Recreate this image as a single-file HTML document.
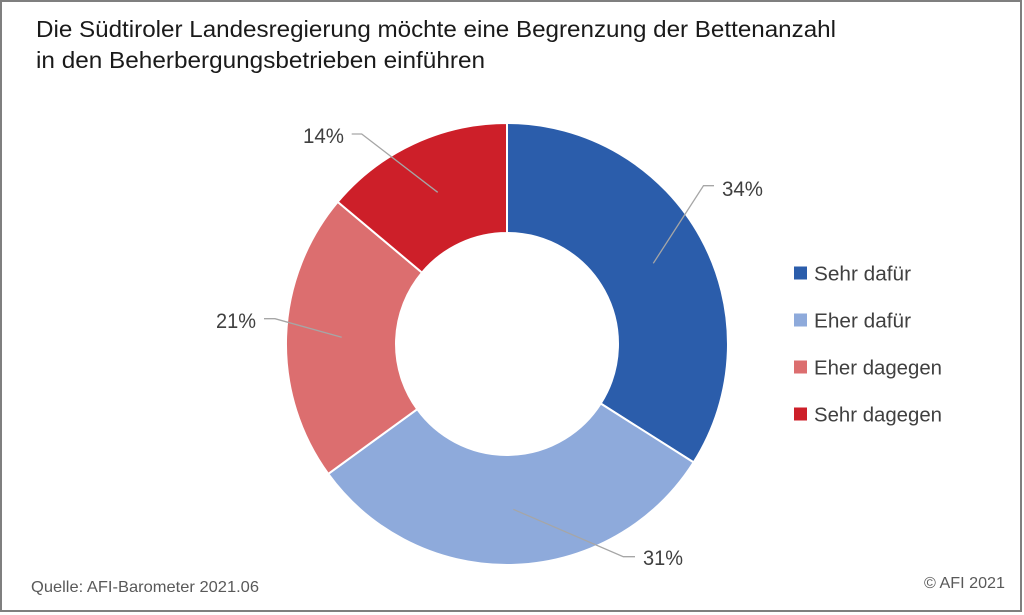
<!DOCTYPE html>
<html>
<head>
<meta charset="utf-8">
<style>
  html, body { margin: 0; padding: 0; background: #ffffff; }
  svg { display: block; }
  text { font-family: "Liberation Sans", "DejaVu Sans", sans-serif; }
</style>
</head>
<body>
<svg width="1024" height="615" viewBox="0 0 1024 615" xmlns="http://www.w3.org/2000/svg">
  <rect x="0" y="0" width="1024" height="615" fill="#ffffff"/>
  <rect x="1" y="1" width="1020" height="610" fill="#ffffff" stroke="#7f7f7f" stroke-width="2"/>

  <!-- Title -->
  <text x="36" y="37" font-size="23" fill="#1a1a1a" textLength="800" lengthAdjust="spacingAndGlyphs">Die Südtiroler Landesregierung möchte eine Begrenzung der Bettenanzahl</text>
  <text x="36" y="68" font-size="23" fill="#1a1a1a" textLength="449" lengthAdjust="spacingAndGlyphs">in den Beherbergungsbetrieben einführen</text>

  <!-- Donut -->
  <g stroke="#ffffff" stroke-width="2" stroke-linejoin="round">
    <path d="M507,123 A221,221 0 0 1 693.6,462.4 L600.7,403.5 A111,111 0 0 0 507,233 Z" fill="#2b5dab"/>
    <path d="M693.6,462.4 A221,221 0 0 1 328.2,473.9 L417.2,409.2 A111,111 0 0 0 600.7,403.5 Z" fill="#8eaadb"/>
    <path d="M328.2,473.9 A221,221 0 0 1 337.7,201.9 L422.0,272.6 A111,111 0 0 0 417.2,409.2 Z" fill="#dc6e6f"/>
    <path d="M337.7,201.9 A221,221 0 0 1 507,123 L507,233 A111,111 0 0 0 422.0,272.6 Z" fill="#cd1f29"/>
  </g>

  <!-- Leader lines -->
  <g stroke="#a6a6a6" stroke-width="1.3" fill="none">
    <polyline points="714,185.7 703.5,185.7 653.3,263.3"/>
    <polyline points="351.7,134 361.7,134 437.7,192.3"/>
    <polyline points="264,318.7 275,318.7 341.7,337.3"/>
    <polyline points="635,556.7 623.3,556.7 513.3,509.3"/>
  </g>

  <!-- Data labels -->
  <g font-size="21" fill="#404040">
    <text x="722" y="196" textLength="41" lengthAdjust="spacingAndGlyphs">34%</text>
    <text x="303" y="143" textLength="41" lengthAdjust="spacingAndGlyphs">14%</text>
    <text x="216" y="328" textLength="40" lengthAdjust="spacingAndGlyphs">21%</text>
    <text x="643" y="565" textLength="40" lengthAdjust="spacingAndGlyphs">31%</text>
  </g>

  <!-- Legend -->
  <rect x="794" y="266.5" width="13" height="13" fill="#2b5dab"/>
  <rect x="794" y="313.5" width="13" height="13" fill="#8eaadb"/>
  <rect x="794" y="360.5" width="13" height="13" fill="#dc6e6f"/>
  <rect x="794" y="407.5" width="13" height="13" fill="#cd1f29"/>
  <g font-size="20.5" fill="#404040">
    <text x="814" y="280.5" textLength="97" lengthAdjust="spacingAndGlyphs">Sehr dafür</text>
    <text x="814" y="327.5" textLength="97" lengthAdjust="spacingAndGlyphs">Eher dafür</text>
    <text x="814" y="374.5" textLength="128" lengthAdjust="spacingAndGlyphs">Eher dagegen</text>
    <text x="814" y="421.5" textLength="128" lengthAdjust="spacingAndGlyphs">Sehr dagegen</text>
  </g>

  <!-- Footer -->
  <text x="31" y="592" font-size="16" fill="#595959" textLength="228" lengthAdjust="spacingAndGlyphs">Quelle: AFI-Barometer 2021.06</text>
  <text x="924" y="588" font-size="16" fill="#595959" textLength="81" lengthAdjust="spacingAndGlyphs">© AFI 2021</text>
</svg>
</body>
</html>
